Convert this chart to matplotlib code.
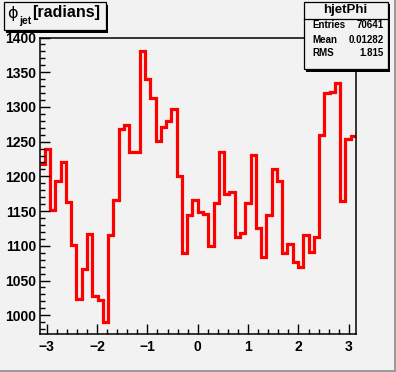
import numpy as np
import matplotlib
matplotlib.use("Agg")
import matplotlib.pyplot as plt
from matplotlib.patches import Rectangle
from matplotlib.ticker import MultipleLocator

# ---- data ----
counts = [1218, 1239, 1151, 1194, 1221, 1163, 1101, 1024, 1067, 1117,
          1028, 1022, 991, 1116, 1166, 1268, 1274, 1235, 1235, 1380,
          1340, 1313, 1251, 1271, 1280, 1297, 1200, 1090, 1145, 1166,
          1148, 1146, 1100, 1161, 1235, 1175, 1177, 1113, 1118, 1161,
          1231, 1126, 1084, 1145, 1211, 1194, 1089, 1103, 1076, 1070,
          1116, 1091, 1112, 1260, 1320, 1321, 1334, 1165, 1254, 1258]
x_min, x_max = -np.pi, np.pi
y_lim = (973, 1400)
x_ticks = [-3, -2, -1, 0, 1, 2, 3]
y_ticks = [1000, 1050, 1100, 1150, 1200, 1250, 1300, 1350, 1400]
title_sym = "ϕ"
title_sub = "jet"
title_main = "[radians]"
stats_name = "hjetPhi"
stats_rows = [("Entries", "70641"), ("Mean", "0.01282"), ("RMS", "1.815")]

W, H = 396, 372
BG = "#f2f2f2"
FONT = "Liberation Sans"

fig = plt.figure(figsize=(W / 100, H / 100), dpi=100, facecolor=BG)

def fx(px):
    return px / W

def fy(py):
    return 1 - py / H

# canvas bevel border
fig.patches.append(Rectangle((fx(W - 2.5), 0), fx(2.5), 1, transform=fig.transFigure,
                             facecolor="#9c9c9c", edgecolor="none", zorder=0))
fig.patches.append(Rectangle((0, 0), 1, 2.5 / H, transform=fig.transFigure,
                             facecolor="#9c9c9c", edgecolor="none", zorder=0))

left, right, top, bottom = 39.5, 356, 37.5, 334
ax = fig.add_axes([fx(left), fy(bottom), fx(right - left), (bottom - top) / H])
ax.set_facecolor(BG)

edges = np.linspace(x_min, x_max, len(counts) + 1)
ax.stairs(counts, edges, baseline=None, color="#ff0000", linewidth=2.3)

ax.set_xlim(x_min, x_max)
ax.set_ylim(*y_lim)
ax.set_xticks(x_ticks)
ax.set_yticks(y_ticks)
ax.xaxis.set_minor_locator(MultipleLocator(0.2))
ax.yaxis.set_minor_locator(MultipleLocator(10))
ax.tick_params(which="both", direction="in", top=False, right=False, width=1, color="black")
ax.tick_params(which="major", length=7)
ax.tick_params(which="minor", length=3.8)
ax.tick_params(axis="x", pad=4)
ax.tick_params(axis="y", pad=2.5)
for lab in ax.get_xticklabels() + ax.get_yticklabels():
    lab.set_fontfamily(FONT)
    lab.set_fontweight("bold")
    lab.set_fontsize(10)
for s in ax.spines.values():
    s.set_linewidth(1.1)
    s.set_color("black")

# title box with shadow
def box(x0, y0, x1, y1, sh=2.5):
    fig.patches.append(Rectangle((fx(x0 + sh), fy(y1 + sh)), fx(x1 - x0), (y1 - y0) / H,
                                 transform=fig.transFigure, facecolor="black",
                                 edgecolor="none", zorder=5))
    fig.patches.append(Rectangle((fx(x0), fy(y1)), fx(x1 - x0), (y1 - y0) / H,
                                 transform=fig.transFigure, facecolor=BG,
                                 edgecolor="black", linewidth=0.9, zorder=6))

box(3.5, 2.5, 106, 30)
fig.text(fx(7.5), fy(13.5), title_sym, fontsize=11.5, family="DejaVu Sans",
         va="center", ha="left", zorder=10)
fig.text(fx(19.5), fy(21), title_sub, fontsize=7.5, family=FONT, fontweight="bold",
         va="center", ha="left", zorder=10)
fig.text(fx(32.5), fy(12), title_main, fontsize=11.5, family=FONT, fontweight="bold",
         va="center", ha="left", zorder=10)

# stats box
box(303.5, 1.5, 387.5, 69)
fig.lines.append(plt.Line2D([fx(303.5), fx(387.5)], [fy(18.5), fy(18.5)],
                            transform=fig.transFigure, color="black", linewidth=0.9, zorder=11))
fig.text(fx(345.5), fy(10), stats_name, fontsize=9.5, family=FONT, fontweight="bold",
         va="center", ha="center", zorder=10)
row_y = [25, 39.7, 53.3]
for (k, v), yy in zip(stats_rows, row_y):
    fig.text(fx(312.5), fy(yy), k, fontsize=7, family=FONT, fontweight="bold",
             va="center", ha="left", zorder=10)
    fig.text(fx(383.5), fy(yy), v, fontsize=7, family=FONT, fontweight="bold",
             va="center", ha="right", zorder=10)

fig.savefig("out.png", dpi=100, facecolor=BG)
